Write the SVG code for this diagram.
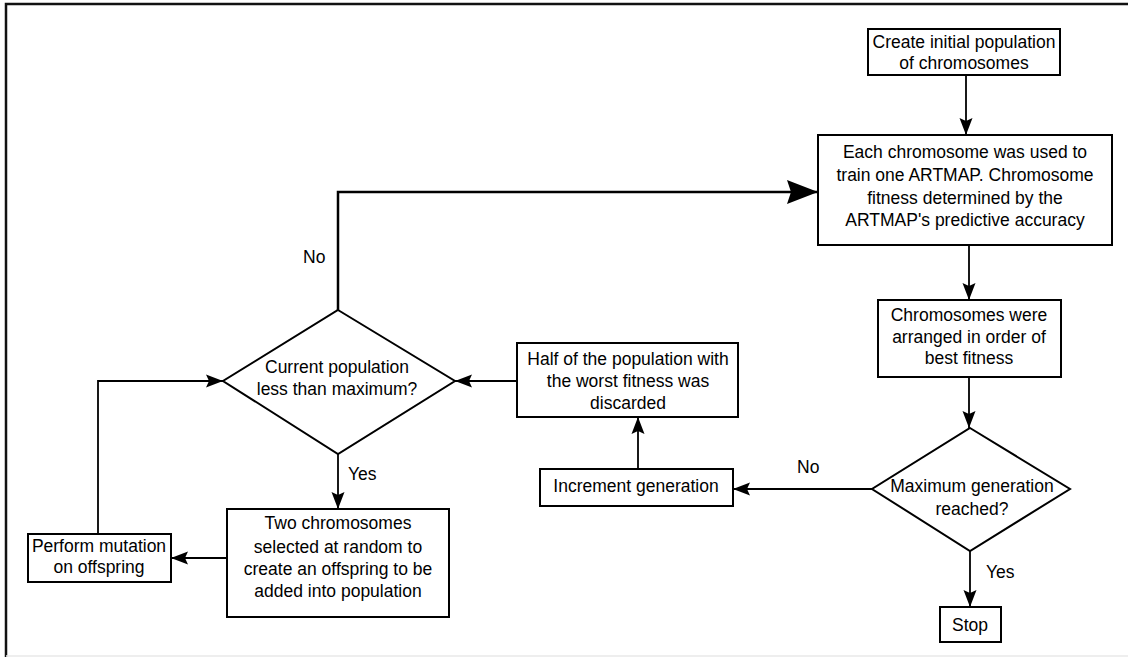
<svg xmlns="http://www.w3.org/2000/svg" width="1128" height="657" viewBox="0 0 1128 657">
<defs>
<style>
.box{fill:#fff;stroke:#000;stroke-width:2}
.t{font-family:"Liberation Sans",Arial,sans-serif;font-size:17.5px;fill:#000;text-anchor:middle}
.lb{font-family:"Liberation Sans",Arial,sans-serif;font-size:17.5px;fill:#000}
.c{fill:none;stroke:#000;stroke-width:1.8}
</style>
<marker id="ah" markerUnits="userSpaceOnUse" markerWidth="18" markerHeight="14" viewBox="0 0 18 14" refX="17" refY="7" orient="auto">
<path d="M0,0.5 L17,7 L0,13.5 L3,7 Z" fill="#000"/>
</marker>
<marker id="ahb" markerUnits="userSpaceOnUse" markerWidth="32" markerHeight="26" viewBox="0 0 32 26" refX="31" refY="13" orient="auto">
<path d="M0,1 L31,13 L0,25 L4,13 Z" fill="#000"/>
</marker>
</defs>
<rect width="1128" height="657" fill="#fff"/>
<g id="frame">
<path d="M6,658 L6,4 L1130,4" fill="none" stroke="#111" stroke-width="2.5"/>
<line x1="6" y1="656" x2="1128" y2="656" stroke="#e8e8e8" stroke-width="1.5"/>
</g>
<g id="connectors">
<line class="c" x1="966" y1="75" x2="966" y2="135" marker-end="url(#ah)"/>
<polyline class="c" points="338,310 338,192 818,192" style="stroke-width:2.5" marker-end="url(#ahb)"/>
<line class="c" x1="969" y1="245" x2="969" y2="300" marker-end="url(#ah)"/>
<line class="c" x1="969" y1="377" x2="969" y2="428" marker-end="url(#ah)"/>
<line class="c" x1="970" y1="551" x2="970" y2="607" marker-end="url(#ah)"/>
<line class="c" x1="872" y1="489" x2="733" y2="489" marker-end="url(#ah)"/>
<line class="c" x1="638" y1="469" x2="638" y2="417" marker-end="url(#ah)"/>
<line class="c" x1="517" y1="381" x2="455" y2="381" marker-end="url(#ah)"/>
<line class="c" x1="338" y1="454" x2="338" y2="509" marker-end="url(#ah)"/>
<line class="c" x1="227" y1="558" x2="171" y2="558" marker-end="url(#ah)"/>
<polyline class="c" points="98,534 98,381 223,381" marker-end="url(#ah)"/>
<text class="lb" x="303" y="263">No</text>
<text class="lb" x="348" y="480">Yes</text>
<text class="lb" x="797" y="473">No</text>
<text class="lb" x="986" y="578">Yes</text>
</g>
<g id="create">
<rect class="box" x="868" y="29" width="192" height="46"/>
<text class="t" x="964" y="48">Create initial population</text>
<text class="t" x="964" y="69">of chromosomes</text>
</g>
<g id="train">
<rect class="box" x="818" y="135" width="294" height="110"/>
<text class="t" x="965" y="158">Each chromosome was used to</text>
<text class="t" x="965" y="181">train one ARTMAP. Chromosome</text>
<text class="t" x="965" y="204">fitness determined by the</text>
<text class="t" x="965" y="226">ARTMAP's predictive accuracy</text>
</g>
<g id="arrange">
<rect class="box" x="878" y="300" width="183" height="77"/>
<text class="t" x="969" y="321">Chromosomes were</text>
<text class="t" x="969" y="343">arranged in order of</text>
<text class="t" x="969" y="364">best fitness</text>
</g>
<g id="maxgen">
<polygon class="box" points="970,428 1070,489 970,551 872,489"/>
<text class="t" x="972" y="492">Maximum generation</text>
<text class="t" x="972" y="515">reached?</text>
</g>
<g id="stop">
<rect class="box" x="940" y="607" width="61" height="35"/>
<text class="t" x="970" y="631">Stop</text>
</g>
<g id="increment">
<rect class="box" x="540" y="469" width="193" height="37"/>
<text class="t" x="636" y="492">Increment generation</text>
</g>
<g id="half">
<rect class="box" x="517" y="343" width="221" height="74"/>
<text class="t" x="628" y="365">Half of the population with</text>
<text class="t" x="628" y="387">the worst fitness was</text>
<text class="t" x="628" y="409">discarded</text>
</g>
<g id="current">
<polygon class="box" points="338,310 455,381 338,454 223,381"/>
<text class="t" x="337" y="373">Current population</text>
<text class="t" x="337" y="395">less than maximum?</text>
</g>
<g id="two">
<rect class="box" x="227" y="509" width="222" height="108"/>
<text class="t" x="338" y="529">Two chromosomes</text>
<text class="t" x="338" y="553">selected at random to</text>
<text class="t" x="338" y="575">create an offspring to be</text>
<text class="t" x="338" y="597">added into population</text>
</g>
<g id="perform">
<rect class="box" x="28" y="534" width="143" height="48"/>
<text class="t" x="99" y="552">Perform mutation</text>
<text class="t" x="99" y="573">on offspring</text>
</g>
</svg>
